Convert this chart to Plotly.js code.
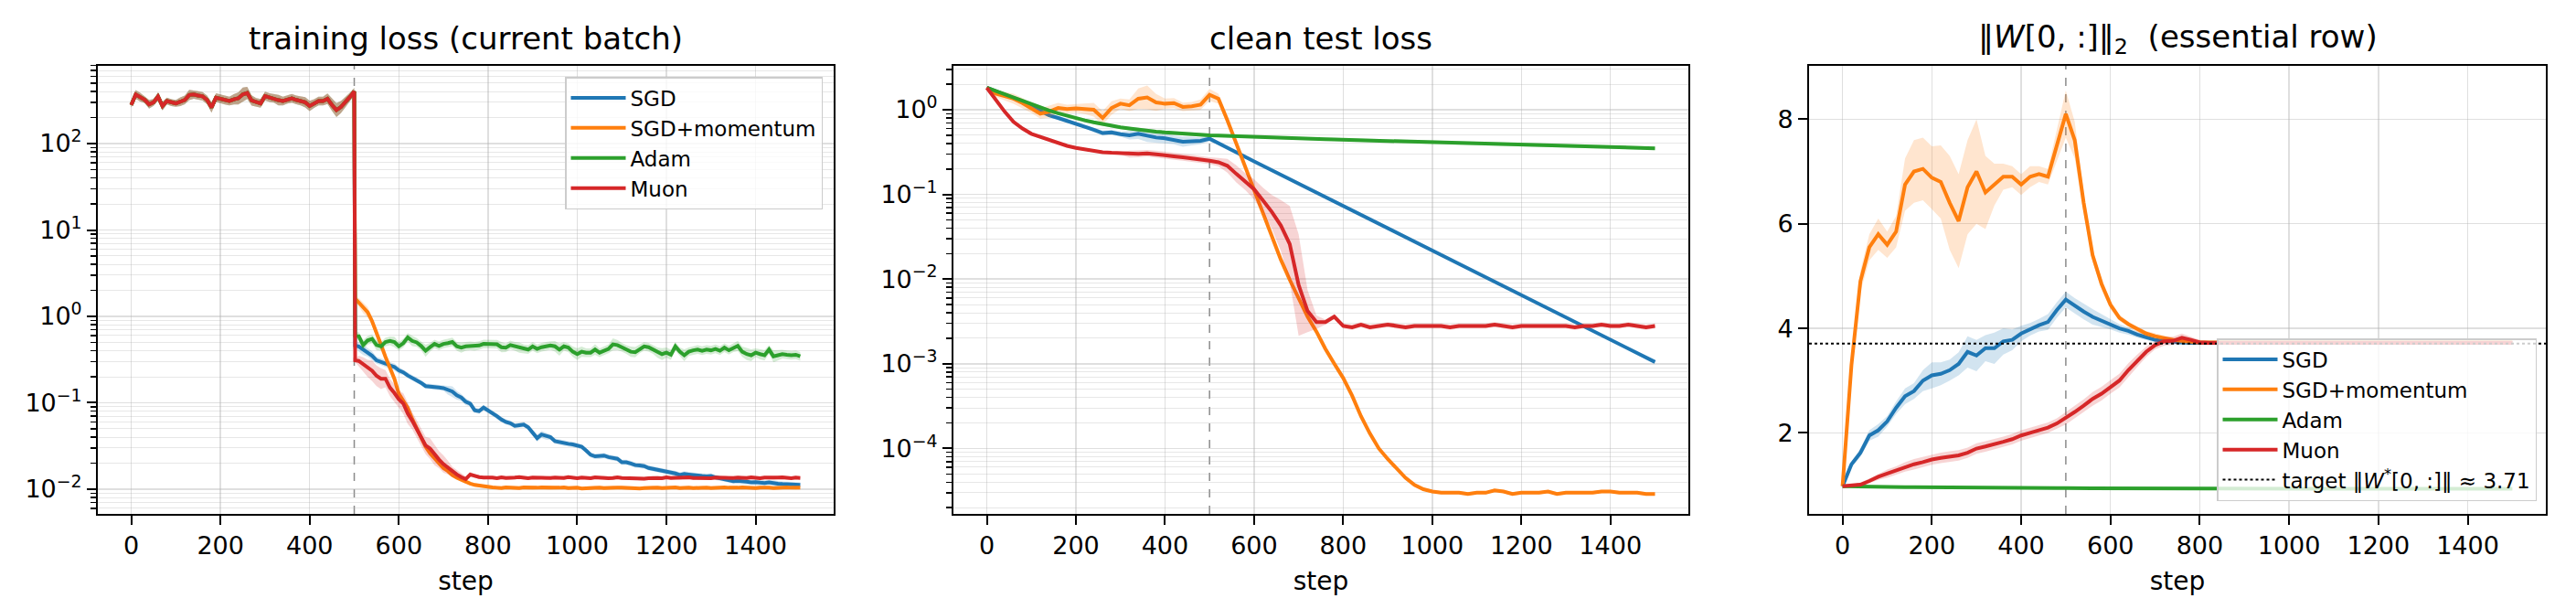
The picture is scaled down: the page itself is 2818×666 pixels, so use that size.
<!DOCTYPE html>
<html><head><meta charset="utf-8">
<script src="https://cdn.plot.ly/plotly-3.0.1.min.js"></script>
<style>html,body{margin:0;padding:0;background:#fff;} #chart{width:2818px;height:666px;}</style>
</head><body><div id="chart"></div>
<script>
// ---------------- DATA ----------------
const names = ["SGD", "SGD+momentum", "Adam", "Muon"];
const switchStep = 500;
const targetNorm = 3.71;
const titles = ["training loss (current batch)", "clean test loss", "‖<i>W</i>[0, :]‖<sub>2</sub>  (essential row)"];
const targetLabel = "target ‖<i>W</i><sup>*</sup>[0, :]‖ ≈ 3.71";
const xTickVals = [0, 200, 400, 600, 800, 1000, 1200, 1400];
const logTickVals1 = [0.01, 0.1, 1, 10, 100];
const logTickText1 = ["10<sup>−2</sup>", "10<sup>−1</sup>", "10<sup>0</sup>", "10<sup>1</sup>", "10<sup>2</sup>"];
const logTickVals2 = [0.0001, 0.001, 0.01, 0.1, 1];
const logTickText2 = ["10<sup>−4</sup>", "10<sup>−3</sup>", "10<sup>−2</sup>", "10<sup>−1</sup>", "10<sup>0</sup>"];
const linTickVals3 = [2, 4, 6, 8];

function range(a, b, s) { const r = []; for (let v = a; v <= b; v += s) r.push(v); return r; }

// panel 1: training loss, steps 0..500 every 10 (all optimizers coincide before the switch)
const trainStepsPre = range(0, 500, 10);
const trainPre = [280,370,345,322,285,300,350,272,311,298,292,305,320,365,370,360,352,320,262,340,
  330,318,311,325,334,370,385,315,300,292,355,340,334,318,311,325,334,320,311,300,
  272,290,311,311,330,280,244,265,300,345,400];
const trainPreSpread = [0.03,0.05,0.05,0.04,0.05,0.04,0.05,0.05,0.04,0.04,
  0.04,0.05,0.05,0.06,0.05,0.05,0.05,0.05,0.06,0.05,
  0.05,0.05,0.05,0.06,0.07,0.08,0.07,0.06,0.05,0.05,
  0.05,0.05,0.05,0.06,0.05,0.05,0.05,0.05,0.05,0.06,
  0.06,0.05,0.05,0.05,0.06,0.07,0.08,0.07,0.06,0.05,0.04];
// after the switch: steps 502, 510, 520, ..., 1500
const trainStepsPost = [502].concat(range(510, 1500, 10));
const trainSGD = [0.46,
  0.449,0.41,0.385,0.35,0.31,0.30,0.285,0.27,0.26,0.237,
  0.225,0.207,0.195,0.183,0.17,0.156,0.155,0.152,0.15,0.148,
  0.14,0.135,0.122,0.115,0.103,0.098,0.082,0.08,0.088,0.082,
  0.075,0.07,0.064,0.06,0.058,0.054,0.055,0.056,0.052,0.045,
  0.039,0.043,0.041,0.04,0.036,0.035,0.034,0.0335,0.033,0.032,
  0.031,0.028,0.025,0.024,0.024,0.0245,0.0235,0.023,0.0225,0.0205,
  0.0205,0.0198,0.019,0.0188,0.0185,0.0176,0.0172,0.0168,0.0163,0.016,
  0.0156,0.0152,0.0146,0.015,0.0148,0.0145,0.0143,0.0142,0.0141,0.0142,
  0.0137,0.0134,0.0132,0.0128,0.0124,0.0125,0.0122,0.0122,0.012,0.0121,
  0.0119,0.0118,0.012,0.0117,0.0116,0.0115,0.0115,0.0113,0.0113,0.0112];
const trainMom = [1.6,
  1.45,1.25,1.12,0.88,0.62,0.47,0.34,0.26,0.19,0.127,
  0.105,0.087,0.065,0.05,0.039,0.031,0.026,0.0225,0.0195,0.0175,
  0.0162,0.0145,0.0136,0.0128,0.0122,0.0116,0.0112,0.011,0.0107,0.0106,
  0.0105,0.0104,0.0103,0.0105,0.0104,0.0104,0.0103,0.0105,0.0104,0.0103,
  0.0104,0.0105,0.0104,0.0103,0.0104,0.0104,0.0105,0.0103,0.0104,0.0104,
  0.0102,0.0103,0.0104,0.0105,0.0104,0.0103,0.0104,0.0105,0.0104,0.0104,
  0.0103,0.0104,0.0103,0.0102,0.0103,0.0104,0.0105,0.0104,0.0103,0.0104,
  0.0104,0.0105,0.0103,0.0104,0.0104,0.0103,0.0104,0.0105,0.0104,0.0103,
  0.0104,0.0104,0.0105,0.0104,0.0103,0.0104,0.0105,0.0104,0.0104,0.0103,
  0.0104,0.0105,0.0104,0.0103,0.0104,0.0104,0.0105,0.0104,0.0103,0.0104];
const trainAdam = [0.60,
  0.59,0.466,0.527,0.55,0.466,0.45,0.505,0.52,0.505,0.45,
  0.49,0.57,0.52,0.50,0.455,0.40,0.44,0.48,0.455,0.48,
  0.49,0.505,0.45,0.435,0.45,0.455,0.45,0.46,0.48,0.48,
  0.475,0.475,0.44,0.435,0.466,0.45,0.435,0.42,0.413,0.45,
  0.42,0.44,0.45,0.46,0.45,0.413,0.45,0.435,0.39,0.366,
  0.39,0.38,0.38,0.413,0.38,0.40,0.42,0.475,0.466,0.44,
  0.413,0.39,0.385,0.42,0.45,0.44,0.413,0.38,0.366,0.38,
  0.36,0.45,0.39,0.355,0.39,0.405,0.413,0.40,0.413,0.405,
  0.42,0.40,0.435,0.405,0.435,0.455,0.39,0.366,0.355,0.38,
  0.366,0.355,0.413,0.345,0.355,0.366,0.36,0.355,0.36,0.345];
const trainMuon = [0.31,
  0.305,0.28,0.25,0.235,0.205,0.19,0.19,0.15,0.13,0.11,
  0.098,0.075,0.062,0.05,0.04,0.032,0.0295,0.025,0.022,0.0195,
  0.0178,0.0158,0.0148,0.0138,0.0131,0.0148,0.0142,0.0138,0.0136,0.0137,
  0.0136,0.0134,0.0137,0.0135,0.0134,0.0136,0.0138,0.0135,0.0134,0.0136,
  0.0135,0.0137,0.0134,0.0135,0.0136,0.0134,0.0135,0.0138,0.0135,0.0134,
  0.0136,0.0135,0.0134,0.0137,0.0135,0.0136,0.0134,0.0135,0.0137,0.0135,
  0.0134,0.0136,0.0135,0.0133,0.0132,0.0134,0.0136,0.0135,0.0134,0.0137,
  0.0135,0.0136,0.0134,0.0135,0.0137,0.0135,0.0134,0.0136,0.0135,0.0134,
  0.0136,0.0135,0.0137,0.0134,0.0135,0.0136,0.0134,0.0135,0.0137,0.0135,
  0.0134,0.0136,0.0135,0.0134,0.0136,0.0137,0.0135,0.0134,0.0136,0.0135];
// band half-widths (decades)
const trainSGDSpread = [0.02,
  0.06,0.06,0.05,0.05,0.04,0.04,0.04,0.04,0.04,0.04,
  0.03,0.03,0.03,0.03,0.03,0.03,0.03,0.03,0.03,0.03,
  0.05,0.06,0.05,0.04,0.04,0.03,0.03,0.03,0.03,0.03,
  0.03,0.03,0.03,0.03,0.03,0.03,0.03,0.03,0.03,0.03,
  0.04,0.04,0.04,0.03,0.03,0.03,0.03,0.03,0.03,0.03,
  0.03,0.03,0.03,0.03,0.03,0.03,0.03,0.03,0.03,0.03,
  0.03,0.03,0.03,0.03,0.03,0.03,0.03,0.03,0.03,0.03,
  0.03,0.03,0.03,0.03,0.03,0.03,0.03,0.03,0.03,0.03,
  0.03,0.03,0.03,0.03,0.03,0.03,0.03,0.03,0.03,0.03,
  0.03,0.03,0.03,0.03,0.03,0.03,0.03,0.03,0.03,0.03];
const trainMomSpread = [0.03,
  0.05,0.06,0.06,0.05,0.04,0.04,0.03,0.03,0.03,0.03,
  0.02,0.02,0.02,0.02,0.02,0.02,0.02,0.02,0.02,0.02,
  0.02,0.02,0.02,0.02,0.02,0.02,0.02,0.02,0.02,0.02,
  0.02,0.02,0.02,0.02,0.02,0.02,0.02,0.02,0.02,0.02,
  0.02,0.02,0.02,0.02,0.02,0.02,0.02,0.02,0.02,0.02,
  0.02,0.02,0.02,0.02,0.02,0.02,0.02,0.02,0.02,0.02,
  0.02,0.02,0.02,0.02,0.02,0.02,0.02,0.02,0.02,0.02,
  0.02,0.02,0.02,0.02,0.02,0.02,0.02,0.02,0.02,0.02,
  0.02,0.02,0.02,0.02,0.02,0.02,0.02,0.02,0.02,0.02,
  0.02,0.02,0.02,0.02,0.02,0.02,0.02,0.02,0.02,0.02];
const trainAdamSpread = [0.03,
  0.05,0.06,0.05,0.05,0.06,0.05,0.05,0.05,0.06,0.05,
  0.05,0.05,0.06,0.05,0.05,0.07,0.05,0.05,0.05,0.05,
  0.05,0.05,0.05,0.06,0.05,0.05,0.05,0.05,0.05,0.05,
  0.05,0.05,0.06,0.05,0.05,0.05,0.06,0.05,0.05,0.05,
  0.05,0.05,0.05,0.05,0.06,0.07,0.05,0.05,0.06,0.07,
  0.06,0.05,0.05,0.06,0.05,0.05,0.05,0.07,0.06,0.05,
  0.05,0.06,0.06,0.05,0.05,0.05,0.05,0.06,0.07,0.06,
  0.06,0.05,0.05,0.07,0.05,0.05,0.05,0.05,0.05,0.05,
  0.05,0.05,0.05,0.05,0.05,0.06,0.06,0.07,0.07,0.05,
  0.06,0.06,0.05,0.07,0.06,0.05,0.05,0.05,0.05,0.05];
const trainMuonSpread = [0.02,
  0.06,0.08,0.1,0.12,0.12,0.12,0.1,0.1,0.1,0.1,
  0.12,0.12,0.1,0.1,0.1,0.1,0.12,0.12,0.1,0.1,
  0.08,0.06,0.05,0.04,0.03,0.03,0.02,0.02,0.02,0.02,
  0.02,0.02,0.02,0.02,0.02,0.02,0.02,0.02,0.02,0.02,
  0.02,0.02,0.02,0.02,0.02,0.02,0.02,0.02,0.02,0.02,
  0.02,0.02,0.02,0.02,0.02,0.02,0.02,0.02,0.02,0.02,
  0.02,0.02,0.02,0.02,0.02,0.02,0.02,0.02,0.02,0.02,
  0.02,0.02,0.02,0.02,0.02,0.02,0.02,0.02,0.02,0.02,
  0.02,0.02,0.02,0.02,0.02,0.02,0.02,0.02,0.02,0.02,
  0.02,0.02,0.02,0.02,0.02,0.02,0.02,0.02,0.02,0.02];

// panel 2: clean test loss, steps 0..1500 every 20
const testSteps = range(0, 1500, 20);
const testSGD = [1.82,1.66,1.52,1.38,1.24,1.1,0.96,0.86,0.8,0.74,0.69,0.64,0.58,0.53,0.54,0.515,0.5,0.52,0.49,0.47,0.46,0.44,0.42,0.425,0.43,0.455,
  0.40,0.354,0.314,0.278,0.246,0.218,0.193,0.171,0.152,0.134,0.119,0.105,0.093,0.0826,0.0732,0.0648,0.0574,0.0509,0.0451,0.0399,0.0354,0.0313,0.0278,0.0246,
  0.0218,0.0193,0.0171,0.0151,0.0134,0.0119,0.0105,0.0093,0.0083,0.0073,0.0065,0.0058,0.0051,0.0045,0.0040,0.00354,0.00314,0.00278,0.00246,0.00218,
  0.00193,0.00171,0.00152,0.00134,0.00119,0.00105];
const testMom = [1.82,1.55,1.45,1.35,1.2,1.05,0.9,0.95,1.05,1.02,1.04,1.02,1.0,0.8,1.05,1.18,1.13,1.35,1.4,1.22,1.18,1.2,1.08,1.1,1.15,1.5,
  1.35,0.75,0.4,0.2,0.11,0.058,0.031,0.017,0.0098,0.0058,0.0036,0.0024,0.0015,0.001,0.00068,0.00042,0.00024,0.00015,0.0001,0.000075,0.000058,0.000045,0.000037,0.000033,0.000031,
  3.0e-5,3.0e-5,3.0e-5,2.9e-5,3.0e-5,3.0e-5,3.2e-5,3.1e-5,2.9e-5,3.0e-5,3.0e-5,3.0e-5,3.1e-5,2.9e-5,3.0e-5,3.0e-5,3.0e-5,3.0e-5,3.1e-5,3.1e-5,3.0e-5,3.0e-5,3.0e-5,2.9e-5,2.9e-5];
const testAdam = [1.82,1.66,1.52,1.39,1.27,1.16,1.06,0.98,0.91,0.85,0.79,0.75,0.71,0.675,0.645,0.62,0.60,0.58,0.565,0.552,0.54,0.53,0.52,0.512,0.505,0.50,
  0.495,0.49,0.485,0.48,0.476,0.472,0.468,0.464,0.46,0.457,0.454,0.451,0.448,0.445,0.442,0.439,0.436,0.433,0.43,0.427,0.424,0.421,0.418,0.415,
  0.412,0.409,0.406,0.403,0.40,0.397,0.394,0.391,0.389,0.386,0.384,0.381,0.379,0.376,0.374,0.372,0.37,0.367,0.365,0.363,0.361,0.359,0.357,0.355,0.353,0.351];
const testMuon = [1.82,1.3,0.95,0.72,0.6,0.52,0.48,0.44,0.405,0.375,0.355,0.34,0.325,0.315,0.31,0.305,0.30,0.302,0.306,0.30,0.29,0.282,0.275,0.268,0.258,0.25,
  0.24,0.218,0.175,0.142,0.115,0.085,0.062,0.043,0.026,0.0085,0.0042,0.0031,0.0031,0.0036,0.0028,0.0027,0.0029,0.0027,0.0028,0.0029,0.0028,0.0027,0.0028,0.0028,0.0028,
  0.0028,0.0027,0.0028,0.0028,0.0028,0.0028,0.0029,0.0028,0.0027,0.0028,0.0028,0.0028,0.0028,0.0028,0.0028,0.0027,0.0028,0.0028,0.0029,0.0028,0.0028,0.0029,0.0028,0.0027,0.0028];
const testSGDSpread = [0.01,0.02,0.02,0.02,0.02,0.02,0.02,0.02,0.02,0.02,0.02,0.02,0.03,0.03,0.03,0.03,0.05,0.06,0.07,0.06,0.06,0.05,0.06,0.05,0.04,0.03,
  0.015,0.015,0.015,0.015,0.015,0.015,0.015,0.015,0.015,0.015,0.015,0.015,0.015,0.015,0.015,0.015,0.015,0.015,0.015,0.015,0.015,0.015,0.015,0.015,
  0.015,0.015,0.015,0.015,0.015,0.015,0.015,0.015,0.015,0.015,0.015,0.015,0.015,0.015,0.015,0.015,0.015,0.015,0.015,0.015,0.015,0.015,0.015,0.015,0.015,0.015];
const testMomSpread = [0.01,0.04,0.05,0.06,0.06,0.06,0.06,0.07,0.06,0.05,0.05,0.06,0.08,0.08,0.08,0.06,0.07,0.12,0.14,0.1,0.06,0.06,0.05,0.05,0.06,0.07,
  0.06,0.05,0.02,0.02,0.02,0.02,0.02,0.02,0.02,0.02,0.02,0.02,0.02,0.02,0.02,0.02,0.02,0.02,0.02,0.02,0.02,0.02,0.02,0.02,
  0.02,0.02,0.02,0.02,0.02,0.02,0.02,0.02,0.02,0.02,0.02,0.02,0.02,0.02,0.02,0.02,0.02,0.02,0.02,0.02,0.02,0.02,0.02,0.02,0.02,0.02];
const testAdamSpread = [0.01,0.02,0.02,0.02,0.02,0.02,0.02,0.02,0.02,0.02,0.02,0.02,0.02,0.02,0.02,0.02,0.02,0.02,0.02,0.02,0.02,0.02,0.02,0.02,0.02,0.02,
  0.02,0.02,0.02,0.02,0.02,0.02,0.02,0.02,0.02,0.02,0.02,0.02,0.02,0.02,0.02,0.02,0.02,0.02,0.02,0.02,0.02,0.02,0.02,0.02,
  0.02,0.02,0.02,0.02,0.02,0.02,0.02,0.02,0.02,0.02,0.02,0.02,0.02,0.02,0.02,0.02,0.02,0.02,0.02,0.02,0.02,0.02,0.02,0.02,0.02,0.02];
const testMuonSpread = [0.01,0.015,0.015,0.015,0.015,0.015,0.015,0.015,0.015,0.015,0.015,0.015,0.015,0.015,0.015,0.015,0.04,0.04,0.04,0.04,0.04,0.04,0.04,0.04,0.04,0.04,
  0.05,0.08,0.1,0.1,0.12,0.15,0.2,0.3,0.45,0.6,0.25,0.08,0.03,0.03,0.03,0.03,0.03,0.03,0.03,0.03,0.03,0.03,0.03,0.03,
  0.03,0.03,0.03,0.03,0.03,0.03,0.03,0.03,0.03,0.03,0.03,0.03,0.03,0.03,0.03,0.03,0.03,0.03,0.03,0.03,0.03,0.03,0.03,0.03,0.03,0.03];

// panel 3: ||W[0,:]||_2, steps 0..1500 every 20
const normSteps = range(0, 1500, 20);
const normSGD = [0.98,1.4,1.62,1.95,2.05,2.22,2.48,2.7,2.8,3.0,3.1,3.13,3.2,3.32,3.55,3.48,3.62,3.62,3.75,3.78,3.9,3.98,4.06,4.12,4.35,4.55,
  4.43,4.32,4.22,4.15,4.08,4.0,3.95,3.88,3.83,3.78,3.76,3.74,3.73,3.72,3.72,
  3.72,3.72,3.72,3.72,3.72,3.72,3.72,3.72,3.72,3.72,3.72,3.72,3.72,3.72,3.72,3.72,3.72,3.72,3.72,3.72,3.72,3.72,3.72,3.72,3.72,3.72,3.72,3.72,3.72,3.72,3.72,3.72,3.72,3.72,3.72];
const normMom = [0.98,3.3,4.9,5.55,5.8,5.6,5.85,6.75,7.0,7.05,6.88,6.8,6.4,6.05,6.7,7.0,6.6,6.75,6.9,6.9,6.75,6.9,6.95,6.9,7.5,8.1,
  7.6,6.4,5.4,4.85,4.45,4.2,4.08,3.98,3.9,3.85,3.81,3.78,3.76,3.74,3.73,
  3.73,3.73,3.73,3.73,3.73,3.73,3.73,3.73,3.73,3.73,3.73,3.73,3.73,3.73,3.73,3.73,3.73,3.73,3.73,3.73,3.73,3.73,3.73,3.73,3.73,3.73,3.73,3.73,3.73,3.73,3.73,3.73,3.73,3.73,3.73];
const normAdam = [0.98,0.975,0.972,0.97,0.968,0.966,0.964,0.962,0.96,0.958,0.957,0.956,0.955,0.954,0.953,0.952,0.951,0.95,0.949,0.948,0.947,0.946,0.945,0.944,0.943,0.942,
  0.941,0.94,0.94,0.939,0.938,0.938,0.937,0.937,0.936,0.936,0.935,0.935,0.934,0.934,0.934,0.933,0.933,0.933,0.932,0.932,0.932,0.932,0.931,0.931,
  0.931,0.931,0.931,0.930,0.930,0.930,0.930,0.930,0.930,0.930,0.930,0.930,0.930,0.930,0.930,0.930,0.930,0.930,0.930,0.930,0.930,0.930,0.930,0.930,0.930,0.930];
const normMuon = [0.98,0.99,1.01,1.08,1.16,1.22,1.28,1.35,1.4,1.44,1.49,1.52,1.55,1.57,1.62,1.7,1.74,1.78,1.83,1.88,1.95,2.0,2.05,2.1,2.18,2.28,
  2.4,2.52,2.65,2.75,2.88,3.0,3.2,3.38,3.55,3.68,3.75,3.76,3.82,3.78,3.73,
  3.72,3.72,3.72,3.72,3.72,3.72,3.72,3.72,3.72,3.72,3.72,3.72,3.72,3.72,3.72,3.72,3.72,3.72,3.72,3.72,3.72,3.72,3.72,3.72,3.72,3.72,3.72,3.72,3.72,3.72,3.72,3.72,3.72,3.72,3.72];
const normSGDSpread = [0,0.05,0.08,0.1,0.12,0.1,0.12,0.15,0.15,0.2,0.25,0.22,0.2,0.22,0.3,0.3,0.25,0.3,0.25,0.2,0.15,0.12,0.12,0.15,0.15,0.15,
  0.15,0.15,0.15,0.12,0.1,0.08,0.07,0.06,0.05,0.05,0.05,0.05,0.05,0.05,0.05,
  0.04,0.04,0.04,0.04,0.04,0.04,0.04,0.04,0.04,0.04,0.04,0.04,0.04,0.04,0.04,0.04,0.04,0.04,0.04,0.04,0.04,0.04,0.04,0.04,0.04,0.04,0.04,0.04,0.04,0.04,0.04,0.04,0.04,0.04,0.04];
const normMomSpread = [0,0.15,0.2,0.25,0.3,0.25,0.3,0.5,0.6,0.6,0.6,0.7,0.9,0.9,0.9,1.0,0.7,0.4,0.25,0.2,0.2,0.2,0.15,0.15,0.3,0.45,
  0.35,0.2,0.12,0.1,0.08,0.06,0.05,0.05,0.05,0.05,0.05,0.05,0.05,0.05,0.05,
  0.04,0.04,0.04,0.04,0.04,0.04,0.04,0.04,0.04,0.04,0.04,0.04,0.04,0.04,0.04,0.04,0.04,0.04,0.04,0.04,0.04,0.04,0.04,0.04,0.04,0.04,0.04,0.04,0.04,0.04,0.04,0.04,0.04,0.04,0.04];
const normAdamSpread = [0,0.01,0.01,0.01,0.01,0.01,0.01,0.01,0.01,0.01,0.01,0.01,0.01,0.01,0.01,0.01,0.01,0.01,0.01,0.01,0.01,0.01,0.01,0.01,0.01,0.01,
  0.01,0.01,0.01,0.01,0.01,0.01,0.01,0.01,0.01,0.01,0.01,0.01,0.01,0.01,0.01,
  0.01,0.01,0.01,0.01,0.01,0.01,0.01,0.01,0.01,0.01,0.01,0.01,0.01,0.01,0.01,0.01,0.01,0.01,0.01,0.01,0.01,0.01,0.01,0.01,0.01,0.01,0.01,0.01,0.01,0.01,0.01,0.01,0.01,0.01,0.01];
const normMuonSpread = [0,0.02,0.04,0.05,0.06,0.08,0.08,0.09,0.1,0.1,0.1,0.1,0.1,0.1,0.1,0.1,0.1,0.1,0.1,0.1,0.1,0.1,0.1,0.1,0.1,0.12,
  0.12,0.12,0.13,0.13,0.13,0.13,0.13,0.12,0.1,0.08,0.08,0.08,0.08,0.06,0.05,
  0.04,0.04,0.04,0.04,0.04,0.04,0.04,0.04,0.04,0.04,0.04,0.04,0.04,0.04,0.04,0.04,0.04,0.04,0.04,0.04,0.04,0.04,0.04,0.04,0.04,0.04,0.04,0.04,0.04,0.04,0.04,0.04,0.04,0.04,0.04];

// ---------------- STYLE / LAYOUT ----------------
const colors = ["#1f77b4", "#ff7f0e", "#2ca02c", "#d62728"];
const fills = ["rgba(31,119,180,0.2)", "rgba(255,127,14,0.2)", "rgba(44,160,44,0.2)", "rgba(214,39,40,0.2)"];
const FONT = "DejaVu Sans, Verdana, sans-serif";
const W = 2818, H = 666;
const xRange = [-75, 1575];
const px = (a, b) => [a / W, b / W];
const plotTop = 71.5, plotBottom = 562;
const yDom = [(H - plotBottom) / H, (H - plotTop) / H];
const xDoms = [px(107, 912), px(1043, 1847), px(1979, 2785)];

function minorLogVals(lo, hi) {
  const v = [];
  for (let e = lo; e <= hi; e++) for (let m = 2; m <= 9; m++) v.push(m * Math.pow(10, e));
  return v;
}

const traces = [];
function pushPair(xa, ya, x, y, up, lo, i, legend) {
  traces.push({type: "scatter", mode: "lines", xaxis: xa, yaxis: ya,
    x: x.concat(x.slice().reverse()), y: up.concat(lo.slice().reverse()),
    fill: "toself", fillcolor: fills[i], line: {width: 0, color: fills[i]}, hoverinfo: "skip", showlegend: false});
  const t = {type: "scatter", mode: "lines", xaxis: xa, yaxis: ya, x: x, y: y, name: names[i],
    line: {color: colors[i], width: 4}, showlegend: !!legend};
  if (legend) { t.legend = legend; t.legendgroup = legend + "_" + i; }
  traces.push(t);
}
function addLog(xa, ya, x, y, spread, i, legend) {
  pushPair(xa, ya, x, y, y.map((v, k) => v * Math.pow(10, spread[k])), y.map((v, k) => v / Math.pow(10, spread[k])), i, legend);
}
function addLin(xa, ya, x, y, spread, i, legend) {
  pushPair(xa, ya, x, y, y.map((v, k) => v + spread[k]), y.map((v, k) => v - spread[k]), i, legend);
}

// panel 1
const trainAllSteps = trainStepsPre.concat(trainStepsPost);
const trainPost = [trainSGD, trainMom, trainAdam, trainMuon];
const trainPostSpread = [trainSGDSpread, trainMomSpread, trainAdamSpread, trainMuonSpread];
for (let i = 0; i < 4; i++) {
  addLog("x", "y", trainAllSteps, trainPre.concat(trainPost[i]), trainPreSpread.concat(trainPostSpread[i]), i, "legend");
}
// panel 2
const testAll = [testSGD, testMom, testAdam, testMuon];
const testSpreadAll = [testSGDSpread, testMomSpread, testAdamSpread, testMuonSpread];
for (let i = 0; i < 4; i++) addLog("x2", "y2", testSteps, testAll[i], testSpreadAll[i], i, null);
// panel 3
const normAll = [normSGD, normMom, normAdam, normMuon];
const normSpreadAll = [normSGDSpread, normMomSpread, normAdamSpread, normMuonSpread];
for (let i = 0; i < 4; i++) addLin("x3", "y3", normSteps, normAll[i], normSpreadAll[i], i, "legend2");
traces.push({type: "scatter", mode: "lines", xaxis: "x3", yaxis: "y3", x: xRange, y: [targetNorm, targetNorm],
  name: targetLabel, line: {color: "#000", width: 2, dash: "dot"}, legend: "legend2", legendgroup: "legend2_t", showlegend: true});

const gridC = "rgba(176,176,176,0.4)";
const minorGridC = "rgba(176,176,176,0.3)";
function xAxis(i, anchor) {
  return {domain: xDoms[i], anchor: anchor, range: xRange, tickmode: "array", tickvals: xTickVals,
    ticks: "outside", ticklen: 10, tickwidth: 2, tickcolor: "#000",
    showline: true, mirror: true, linecolor: "#000", linewidth: 2,
    showgrid: true, gridcolor: gridC, gridwidth: 1.5, zeroline: false,
    tickfont: {family: FONT, size: 27, color: "#000"},
    title: {text: "step", font: {family: FONT, size: 28, color: "#000"}, standoff: 14}, automargin: false};
}
function yLog(anchor, rng, tv, tt, lo, hi) {
  return {domain: yDom, anchor: anchor, type: "log", range: rng, tickmode: "array", tickvals: tv, ticktext: tt,
    ticks: "outside", ticklen: 10, tickwidth: 2, tickcolor: "#000",
    showline: true, mirror: true, linecolor: "#000", linewidth: 2,
    showgrid: true, gridcolor: gridC, gridwidth: 1.5, zeroline: false,
    minor: {tickvals: minorLogVals(lo, hi), ticks: "outside", ticklen: 6, tickwidth: 1.5, tickcolor: "#000",
      showgrid: true, gridcolor: minorGridC, gridwidth: 1},
    tickfont: {family: FONT, size: 27, color: "#000"}, automargin: false};
}

const shapes = ["x", "x2", "x3"].map(xr => ({type: "line", xref: xr, yref: (xr === "x" ? "y" : "y" + xr.slice(1)) + " domain",
  x0: switchStep, x1: switchStep, y0: 0, y1: 1, layer: "below",
  line: {color: "rgba(110,110,110,0.8)", width: 1.5, dash: "dash"}}));

const titleY = 1 - 42 / H;
const annotations = titles.map((t, i) => ({text: t, xref: "paper", yref: "paper",
  x: (xDoms[i][0] + xDoms[i][1]) / 2, y: titleY, xanchor: "center", yanchor: "middle", showarrow: false,
  font: {family: FONT, size: 34, color: "#000"}}));

const legendCommon = {font: {family: FONT, size: 23, color: "#000"}, bgcolor: "rgba(255,255,255,0.8)",
  bordercolor: "#cccccc", borderwidth: 1.5, itemwidth: 60, tracegroupgap: 0};

const layout = {
  width: W, height: H, margin: {l: 0, r: 0, t: 0, b: 0},
  paper_bgcolor: "#fff", plot_bgcolor: "#fff",
  font: {family: FONT, color: "#000"},
  xaxis: xAxis(0, "y"), xaxis2: xAxis(1, "y2"), xaxis3: xAxis(2, "y3"),
  yaxis: yLog("x", [-2.286, 2.905], logTickVals1, logTickText1, -3, 2),
  yaxis2: yLog("x2", [-4.773, 0.524], logTickVals2, logTickText2, -5, 0),
  yaxis3: {domain: yDom, anchor: "x3", range: [0.45, 9.03], tickmode: "array", tickvals: linTickVals3,
    ticks: "outside", ticklen: 10, tickwidth: 2, tickcolor: "#000",
    showline: true, mirror: true, linecolor: "#000", linewidth: 2,
    showgrid: true, gridcolor: gridC, gridwidth: 1.5, zeroline: false,
    tickfont: {family: FONT, size: 27, color: "#000"}, automargin: false},
  legend: Object.assign({}, legendCommon, {x: 900 / W, xanchor: "right", y: (H - 84) / H, yanchor: "top"}),
  legend2: Object.assign({}, legendCommon, {x: 2775 / W, xanchor: "right", y: (H - 548) / H, yanchor: "bottom"}),
  shapes: shapes, annotations: annotations, showlegend: true
};

Plotly.newPlot("chart", traces, layout, {displayModeBar: false, staticPlot: true});
</script></body></html>
